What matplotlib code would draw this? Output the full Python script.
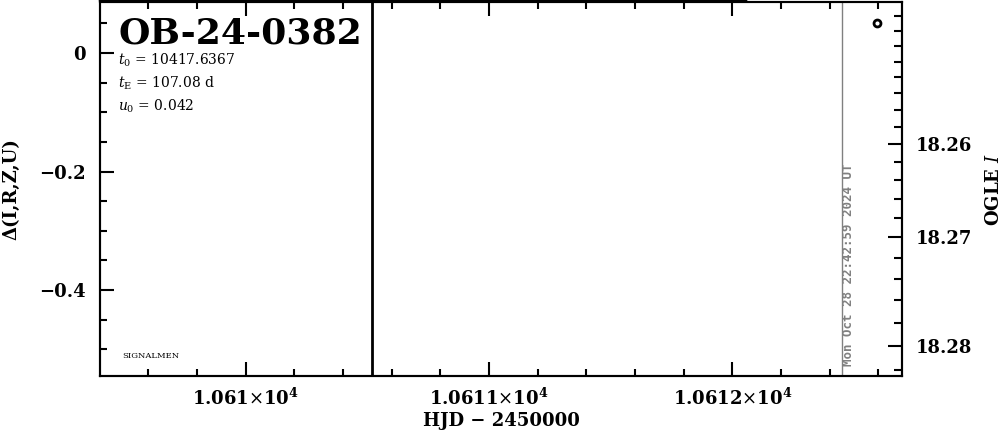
import numpy as np
import matplotlib
matplotlib.use("Agg")
import matplotlib.pyplot as plt
from matplotlib.ticker import MultipleLocator, FuncFormatter

plt.rcParams['font.family'] = ['DejaVu Serif']
plt.rcParams['mathtext.fontset'] = 'dejavuserif'

# event info
event = "OB-24-0382"
t0 = 10417.6367
tE = 107.08
u0 = 0.042
stamp = "Mon Oct 28 22:42:59 2024 UT"

# OGLE points (HJD-2450000, delta mag)
ogle_t = [10612.593]
ogle_d = [0.0506]

# one point with a huge error bar
bad_t = [10610.518]
bad_d = [-0.442]
bad_e = [1.0]

# model curve, sits on the upper edge
model_t = [10609.40, 10612.057]
model_d = [0.0890, 0.0885]

# "now" line
now_t = 10612.45

# right axis: OGLE I magnitudes
m0 = 18.2489
fblend = 0.9228
mag_major = [18.26, 18.27, 18.28]
mag_minor = [18.244, 18.246, 18.248, 18.250, 18.252, 18.254, 18.256, 18.258,
             18.262, 18.264, 18.266, 18.268, 18.272, 18.274, 18.276, 18.278,
             18.282]

def mag_to_delta(m):
    m = np.asarray(m)
    return 2.5 * np.log10((10**(-0.4 * (m - m0)) - fblend) / (1 - fblend))

fig = plt.figure(figsize=(10.04, 4.34), dpi=100)
ax = fig.add_axes([100/1004, 1 - 376/434, 802/1004, 374/434])
ax.set_xlim(10609.401, 10612.697)
ax.set_ylim(-0.5451, 0.0861)

ax.plot(model_t, model_d, color='k', lw=1.5, clip_on=False)
ax.errorbar(bad_t, bad_d, yerr=bad_e, fmt='none', ecolor='k', elinewidth=2)
ax.plot(ogle_t, ogle_d, 'o', ms=5, mfc='white', mec='k', mew=2)
ax.axvline(now_t, color='gray', lw=1)

ax.xaxis.set_major_locator(MultipleLocator(1))
ax.xaxis.set_minor_locator(MultipleLocator(0.2))

def xfmt(v, pos):
    s = ("%.4f" % (v / 1e4)).rstrip('0')
    return s + r"$\times\mathbf{10^{4}}$"
ax.xaxis.set_major_formatter(FuncFormatter(xfmt))

ax.yaxis.set_major_locator(MultipleLocator(0.2))
ax.yaxis.set_minor_locator(MultipleLocator(0.05))
ax.yaxis.set_major_formatter(FuncFormatter(lambda v, p: "0" if abs(v) < 1e-9 else ("%.1f" % v).replace('-', '\u2212')))

ax.tick_params(axis='x', which='both', direction='in', top=True, bottom=True, labelsize=13, pad=8)
ax.tick_params(axis='y', which='both', direction='in', left=True, right=False, labelsize=13, pad=10)
ax.tick_params(which='major', length=10, width=1.5)
ax.tick_params(which='minor', length=5, width=1.5)
for lab in ax.get_xticklabels() + ax.get_yticklabels():
    lab.set_fontweight('bold')
for s in ax.spines.values():
    s.set_linewidth(1.5)

ax.set_xlabel("HJD \u2212 2450000", fontsize=13, fontweight='bold', labelpad=3)
ax.set_ylabel("\u0394(I,R,Z,U)", fontsize=13, fontweight='bold', labelpad=14)

ax2 = ax.twinx()
ax2.set_ylim(ax.get_ylim())
ax2.set_yticks(mag_to_delta(mag_major))
ax2.set_yticklabels(["%.2f" % m for m in mag_major], fontweight='bold')
ax2.set_yticks(mag_to_delta(mag_minor), minor=True)
ax2.tick_params(axis='y', which='both', direction='in', right=True, labelsize=13, pad=10)
ax2.tick_params(which='major', length=10, width=1.5)
ax2.tick_params(which='minor', length=6, width=1.5)
ax2.set_ylabel(r"OGLE $\mathbf{\mathit{I}}$", fontsize=13, fontweight='bold', labelpad=9)
for s in ax2.spines.values():
    s.set_linewidth(1.5)

fig.text(118/1004, 1 - 44/434, event, fontsize=26, fontweight='bold', va='baseline')
fig.text(118/1004, 1 - 65/434, r"$t_{0}$ = %.4f" % t0, fontsize=10, va='baseline')
fig.text(118/1004, 1 - 88/434, r"$t_{\rm E}$ = %.2f d" % tE, fontsize=10, va='baseline')
fig.text(118/1004, 1 - 111/434, r"$u_{0}$ = %.3f" % u0, fontsize=10, va='baseline')
fig.text(122/1004, 1 - 358/434, "SIGNALMEN", fontsize=6, va='baseline')
fig.text(849/1004, 1 - 366/434, stamp, rotation=90, ha='center', va='bottom',
         color='gray', family='DejaVu Sans Mono', fontweight='bold', fontsize=9)

fig.savefig("out.png", dpi=100)
